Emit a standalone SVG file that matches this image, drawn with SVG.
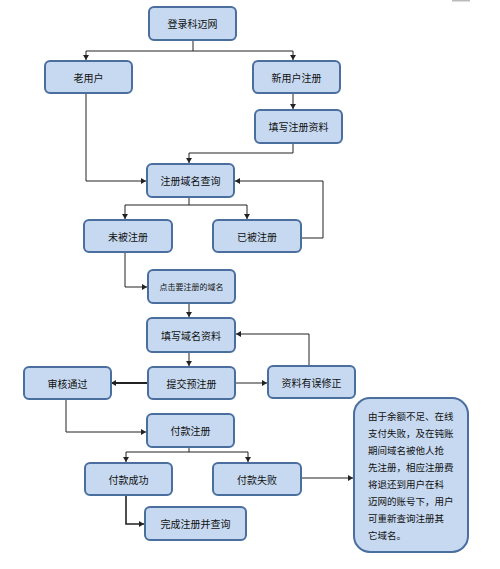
<svg xmlns="http://www.w3.org/2000/svg" width="500" height="569" viewBox="0 0 500 569">
<style>
.n{fill:#c6d9f0;stroke:#4a6e9e;stroke-width:2}
.t{font-family:"Noto Sans CJK SC","Noto Sans",sans-serif;font-size:10px;fill:#111;text-anchor:middle;dominant-baseline:central}
.b{font-family:"Noto Sans CJK SC","Noto Sans",sans-serif;font-size:9.5px;fill:#111}
.c{fill:none;stroke:#222;stroke-width:1}
.a{marker-end:url(#ar)}
.k{stroke-width:2}
</style>
<defs>
<marker id="ar" markerUnits="userSpaceOnUse" markerWidth="6" markerHeight="6" refX="5" refY="3" orient="auto">
<path d="M0,0 L5,3 L0,6 Z" fill="#222"/>
</marker>
</defs>
<rect x="452" y="0" width="18" height="1.5" fill="#bbb"/>
<g id="connectors">
<path class="c" d="M193,40 V51 M86,51 H293"/>
<path class="c a" d="M86,51 V60"/>
<path class="c a" d="M293,51 V60"/>
<path class="c a" d="M293,93 V109"/>
<path class="c a" d="M293,143 V153 H189 V163"/>
<path class="c a" d="M86,93 V181 H146"/>
<path class="c a" d="M300,238 H323 V181 H235"/>
<path class="c" d="M189,197 V205 M125,205 H247"/>
<path class="c a" d="M125,205 V219"/>
<path class="c a" d="M247,205 V219"/>
<path class="c a" d="M125,252 V287 H147"/>
<path class="c a" d="M189,303 V317"/>
<path class="c a" d="M189,352 V366"/>
<path class="c a k" d="M148,383 H111"/>
<path class="c a" d="M235,383 H267"/>
<path class="c a" d="M309,366 V334 H236"/>
<path class="c a" d="M66,399 V432 H146"/>
<path class="c" d="M189,447 V452 M126,452 H248"/>
<path class="c a" d="M126,452 V462"/>
<path class="c a" d="M248,452 V462"/>
<path class="c a" d="M301,478 H353"/>
<path class="c a" d="M126,495 V524 H144" style="stroke-width:1.6"/>
</g>
<g id="n1"><rect class="n" x="149" y="7" width="87" height="33" rx="5"/><text class="t" x="192.5" y="23.5">登录科迈网</text></g>
<g id="n2"><rect class="n" x="45" y="61" width="87" height="32" rx="5"/><text class="t" x="88.5" y="77">老用户</text></g>
<g id="n3"><rect class="n" x="253" y="61" width="87" height="32" rx="5"/><text class="t" x="296.5" y="77">新用户注册</text></g>
<g id="n4"><rect class="n" x="255" y="110" width="87" height="33" rx="5"/><text class="t" x="298.5" y="126.5">填写注册资料</text></g>
<g id="n5"><rect class="n" x="147" y="164" width="87" height="33" rx="5"/><text class="t" x="190.5" y="180.5">注册域名查询</text></g>
<g id="n6"><rect class="n" x="84" y="220" width="88" height="32" rx="5"/><text class="t" x="128" y="236">未被注册</text></g>
<g id="n7"><rect class="n" x="213" y="220" width="88" height="32" rx="5"/><text class="t" x="257" y="236">已被注册</text></g>
<g id="n8"><rect class="n" x="148" y="270" width="87" height="33" rx="5"/><text class="t" x="191.5" y="286.5" style="font-size:8px">点击要注册的域名</text></g>
<g id="n9"><rect class="n" x="147" y="318" width="88" height="34" rx="5"/><text class="t" x="191" y="335">填写域名资料</text></g>
<g id="n10"><rect class="n" x="148" y="367" width="87" height="32" rx="5"/><text class="t" x="191.5" y="383">提交预注册</text></g>
<g id="n11"><rect class="n" x="24" y="367" width="87" height="32" rx="5"/><text class="t" x="67.5" y="383">审核通过</text></g>
<g id="n12"><rect class="n" x="268" y="366" width="87" height="32" rx="5"/><text class="t" x="311.5" y="382">资料有误修正</text></g>
<g id="n13"><rect class="n" x="147" y="414" width="87" height="33" rx="5"/><text class="t" x="190.5" y="430.5">付款注册</text></g>
<g id="n14"><rect class="n" x="85" y="463" width="87" height="32" rx="5"/><text class="t" x="128.5" y="479">付款成功</text></g>
<g id="n15"><rect class="n" x="213" y="463" width="88" height="32" rx="5"/><text class="t" x="257" y="479">付款失败</text></g>
<g id="n16"><rect class="n" x="145" y="507" width="101" height="33" rx="5"/><text class="t" x="195.5" y="523.5">完成注册并查询</text></g>
<g id="n17"><rect class="n" x="354" y="398" width="114" height="154" rx="16"/>
<text class="b" x="368" y="420">由于余额不足、在线</text>
<text class="b" x="368" y="437">支付失败，及在钝账</text>
<text class="b" x="368" y="454">期间域名被他人抢</text>
<text class="b" x="368" y="471">先注册，相应注册费</text>
<text class="b" x="368" y="488">将退还到用户在科</text>
<text class="b" x="368" y="505">迈网的账号下，用户</text>
<text class="b" x="368" y="522">可重新查询注册其</text>
<text class="b" x="368" y="539">它域名。</text>
</g>
</svg>
